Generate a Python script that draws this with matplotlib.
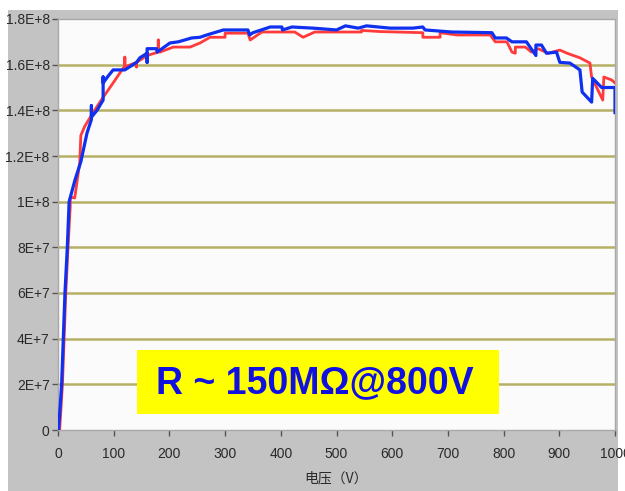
import matplotlib
matplotlib.use("Agg")
import matplotlib.pyplot as plt
import matplotlib.patches as mpatches

# 电压 (V) / 电阻值 (x1e8)
red_v = [3, 8, 11, 14, 18, 22, 22, 30, 39, 41, 48, 63, 79, 99, 117, 120, 120, 120,
         141, 141, 141, 160, 180, 180, 180, 183, 207, 237, 255, 273, 300, 300, 341,
         345, 366, 425, 440, 461, 545, 545, 578, 655, 655, 686, 686, 716, 776, 785,
         806, 815, 821, 821, 839, 850, 862, 880, 901, 914, 937, 955, 958, 978, 980,
         994, 1000]
red_r = [0, 0.2, 0.4, 0.6, 0.8, 0.98, 1.02, 1.016, 1.17, 1.29, 1.33, 1.39, 1.45, 1.52,
         1.585, 1.585, 1.633, 1.59, 1.61, 1.59, 1.61, 1.64, 1.655, 1.708, 1.66, 1.655,
         1.677, 1.677, 1.695, 1.72, 1.72, 1.738, 1.738, 1.708, 1.743, 1.743, 1.72,
         1.743, 1.743, 1.75, 1.745, 1.74, 1.72, 1.72, 1.74, 1.73, 1.73, 1.70, 1.70,
         1.655, 1.65, 1.677, 1.677, 1.655, 1.67, 1.65, 1.664, 1.65, 1.63, 1.607,
         1.546, 1.445, 1.546, 1.533, 1.52]

blue_v = [1, 6.5, 9.5, 12.5, 16.7, 20, 30.5, 41, 52, 60, 60, 60, 70, 81, 81, 81, 90,
          99, 120, 141, 147, 160, 160, 160, 177, 178, 201, 216, 240, 255, 267, 297,
          341, 344, 350, 381, 402, 403, 420, 458, 500, 516, 539, 554, 596, 637, 655,
          659, 707, 779, 785, 805, 815, 841, 858, 858, 868, 877, 895, 901, 919, 937,
          941, 958, 960, 976, 1000, 1000]
blue_r = [0, 0.2, 0.4, 0.6, 0.8, 1.0, 1.095, 1.175, 1.30, 1.36, 1.42, 1.37, 1.40,
          1.445, 1.546, 1.52, 1.55, 1.577, 1.577, 1.61, 1.63, 1.65, 1.61, 1.67, 1.67,
          1.655, 1.695, 1.70, 1.717, 1.72, 1.73, 1.752, 1.752, 1.73, 1.74, 1.765,
          1.765, 1.752, 1.765, 1.76, 1.752, 1.77, 1.76, 1.77, 1.76, 1.76, 1.765,
          1.752, 1.743, 1.74, 1.717, 1.717, 1.70, 1.70, 1.64, 1.686, 1.686, 1.65,
          1.655, 1.61, 1.607, 1.577, 1.48, 1.436, 1.54, 1.50, 1.50, 1.39]

x_ticks = [0, 100, 200, 300, 400, 500, 600, 700, 800, 900, 1000]
y_ticks = [0, 2e7, 4e7, 6e7, 8e7, 1e8, 1.2e8, 1.4e8, 1.6e8, 1.8e8]
y_labels = ["0", "2E+7", "4E+7", "6E+7", "8E+7", "1E+8", "1.2E+8", "1.4E+8", "1.6E+8", "1.8E+8"]

W, H = 625, 491
fig = plt.figure(figsize=(W / 100, H / 100), dpi=100, facecolor="white")
fig.patches.append(mpatches.Rectangle((8 / W, 0), 610 / W, 481 / H, transform=fig.transFigure,
                                      fc="#c3c3c3", ec="none", zorder=-1))
ax = fig.add_axes([58 / W, (H - 430) / H, 557 / W, 411 / H])
ax.set_zorder(1)
ax.set_facecolor("#fbfbfb")

ax.plot(red_v, [r * 1e8 for r in red_r], color="#ff3b3b", lw=2.0, zorder=3)
ax.plot(blue_v, [r * 1e8 for r in blue_r], color="#1030f0", lw=2.3, zorder=4)

ax.set_xlim(0, 1000)
ax.set_ylim(0, 1.8e8)
ax.set_xticks(x_ticks)
ax.set_yticks(y_ticks)
ax.set_yticklabels(y_labels)
for y in y_ticks[1:-1]:
    ax.axhline(y, color="#b5b065", lw=1.8, zorder=1)

tick_family = ["Liberation Sans", "DejaVu Sans"]
for lbl in ax.get_xticklabels() + ax.get_yticklabels():
    lbl.set_fontfamily(tick_family)
    lbl.set_fontsize(10)
    lbl.set_color("#2a2a2a")
ax.tick_params(axis="both", direction="out", length=4, width=1, color="#555555", pad=2)
ax.tick_params(axis="x", pad=8)
for s in ax.spines.values():
    s.set_color("#a8a8a8")
    s.set_linewidth(1)

ax.set_xlabel("电压（V）", fontsize=10, color="#2a2a2a", labelpad=8,
              family=["Noto Sans CJK SC", "DejaVu Sans"])

# 黄色标注框
fig.patches.append(mpatches.Rectangle((137 / W, (H - 414) / H), 362 / W, 64 / H,
                                      transform=fig.transFigure, fc="#ffff00", ec="none", zorder=5))
fig.text(315 / W, (H - 383) / H, "R ~ 150MΩ@800V", ha="center", va="center",
         fontsize=27, fontweight="bold", color="#1010e0",
         family=["Liberation Sans", "DejaVu Sans"], zorder=6)

fig.savefig("out.png", dpi=100)
